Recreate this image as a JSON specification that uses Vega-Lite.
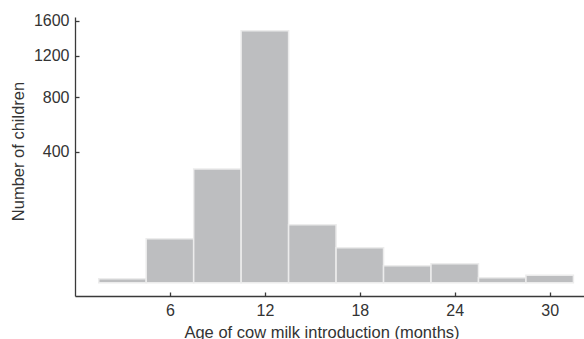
{
  "$schema": "https://vega.github.io/schema/vega-lite/v6.json",
  "width": 509.5,
  "height": 279,
  "autosize": {"type": "none"},
  "padding": {"left": 75, "top": 17, "right": 0, "bottom": 43},
  "background": "white",
  "config": {
    "view": {"stroke": null},
    "font": "Liberation Sans",
    "axis": {
      "domainColor": "#3a3a3a",
      "tickColor": "#3a3a3a",
      "labelColor": "#333333",
      "titleColor": "#333333",
      "labelFont": "Liberation Sans",
      "titleFont": "Liberation Sans",
      "labelFontSize": 16,
      "titleFontSize": 16.5,
      "titleFontWeight": "normal",
      "grid": false,
      "domainWidth": 1.3,
      "tickWidth": 1.3
    }
  },
  "data": {
    "values": [
      {"start": 1.5, "end": 4.5, "count": 0.37},
      {"start": 4.5, "end": 7.5, "count": 45},
      {"start": 7.5, "end": 10.5, "count": 301},
      {"start": 10.5, "end": 13.5, "count": 1480},
      {"start": 13.5, "end": 16.5, "count": 78},
      {"start": 16.5, "end": 19.5, "count": 28.6},
      {"start": 19.5, "end": 22.5, "count": 6.7},
      {"start": 22.5, "end": 25.5, "count": 8.4},
      {"start": 25.5, "end": 28.5, "count": 0.58},
      {"start": 28.5, "end": 31.5, "count": 1.28}
    ]
  },
  "mark": {"type": "bar", "fill": "#bdbec0", "stroke": "#ececec", "strokeWidth": 1.5},
  "encoding": {
    "x": {
      "field": "start",
      "type": "quantitative",
      "scale": {"domain": [0, 32.2], "nice": false, "zero": false},
      "axis": {
        "values": [6, 12, 18, 24, 30],
        "tickSize": -4,
        "labelPadding": 10,
        "title": "Age of cow milk introduction (months)",
        "titleX": 246.5,
        "titleY": 41,
        "titleAlign": "center",
        "titleBaseline": "alphabetic"
      }
    },
    "x2": {"field": "end"},
    "y": {
      "field": "count",
      "type": "quantitative",
      "scale": {"type": "sqrt", "domain": [-4.1, 1645], "nice": false, "zero": false},
      "axis": {
        "values": [400, 800, 1200, 1600],
        "format": "d",
        "tickSize": -4,
        "labelPadding": 10,
        "title": "Number of children",
        "titleX": -56.5,
        "titleY": 134,
        "titleAngle": -90,
        "titleAlign": "center",
        "titleBaseline": "middle"
      }
    },
    "y2": {"datum": 0}
  }
}
